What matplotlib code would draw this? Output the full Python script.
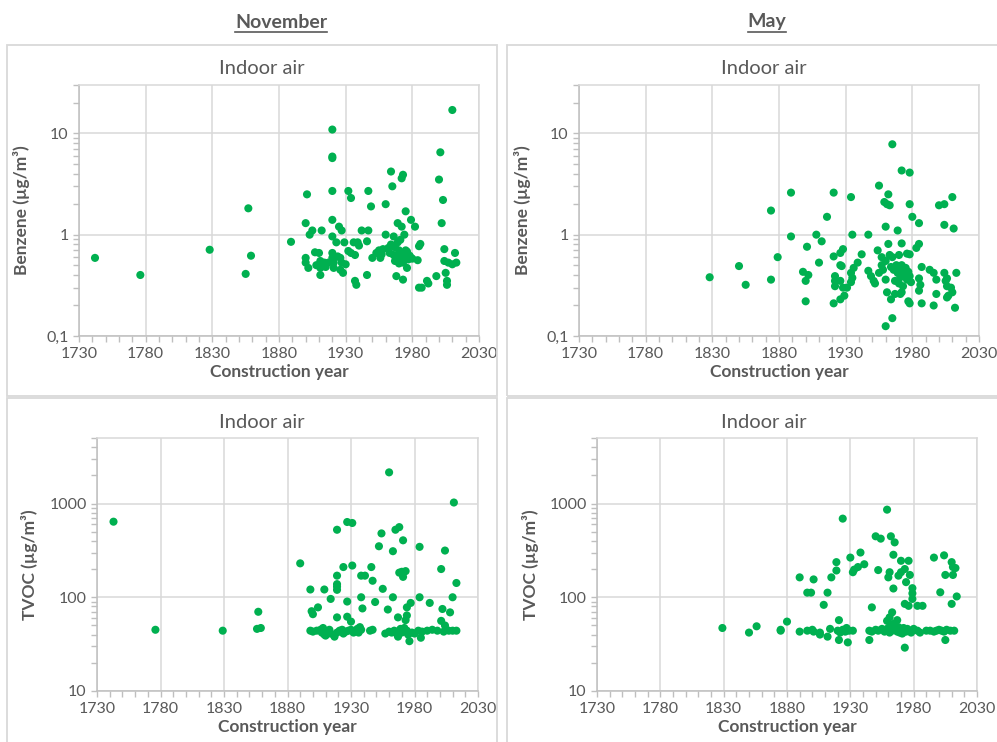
import matplotlib
matplotlib.use('Agg')
import matplotlib.pyplot as plt
from matplotlib.patches import Rectangle
from matplotlib.lines import Line2D
from matplotlib.ticker import LogLocator, FixedLocator, NullFormatter

# --- data ---
nov_benz_year = [1742, 1776, 1828, 1857, 1859, 1855, 1889,
                 2010, 1920, 1920, 1920, 2001, 1964, 1973, 1972, 2000, 1965, 2003,
                 1901, 1920, 1932, 1934, 1947, 1949, 1960, 1975, 1979, 2002, 1900,
                 1905, 1903, 1912, 1920, 1925, 1927, 1942, 1947, 1969, 1972, 1982,
                 1960, 1966, 1974, 1920, 1923, 1929, 1936, 1939, 1940, 1946, 1969,
                 1971, 1985, 1986, 2004, 2012, 1907, 1910, 1900, 1900, 1902, 1911,
                 1911, 1911, 1914, 1917, 1920, 1920, 1921, 1921, 1924, 1926, 1927,
                 1926, 1928, 1932, 1934, 1937, 1937, 1938, 1946, 1950, 1956, 1953,
                 1955, 1958, 1962, 1963, 1966, 1968, 1971, 1973, 1975, 1977, 1979,
                 1984, 1976, 1968, 1973, 1985, 1987, 1991, 1992, 1998, 2005, 2006,
                 2006, 2004, 2007, 2010, 2013, 1964, 1967, 1970, 1972, 1974, 1976,
                 1978, 1980, 1957, 1967, 1970, 1908, 1915, 1930]
nov_benz_val = [0.59, 0.40, 0.71, 1.82, 0.62, 0.41, 0.85,
                17, 10.9, 5.9, 5.7, 6.5, 4.2, 3.9, 3.6, 3.5, 3.0, 2.2,
                2.5, 2.7, 2.7, 2.3, 2.7, 1.9, 2.0, 1.7, 1.4, 1.3, 1.3,
                1.1, 1.0, 1.1, 1.4, 1.2, 1.1, 1.1, 1.1, 1.3, 1.2, 1.2,
                1.0, 0.96, 1.0, 0.96, 0.84, 0.84, 0.84, 0.84, 0.78, 0.86, 0.84,
                0.89, 0.77, 0.81, 0.72, 0.66, 0.67, 0.66, 0.59, 0.53, 0.47, 0.55,
                0.47, 0.40, 0.53, 0.53, 0.66, 0.59, 0.53, 0.47, 0.61, 0.59, 0.53,
                0.45, 0.42, 0.69, 0.66, 0.63, 0.35, 0.32, 0.40, 0.59, 0.59, 0.66,
                0.70, 0.72, 0.74, 0.66, 0.63, 0.61, 0.57, 0.53, 0.70, 0.57, 0.59,
                0.56, 0.47, 0.39, 0.36, 0.30, 0.30, 0.35, 0.33, 0.39, 0.42, 0.35,
                0.32, 0.55, 0.53, 0.51, 0.53, 0.80, 0.75, 0.70, 0.65, 0.62, 0.68,
                0.62, 0.58, 0.64, 0.55, 0.52, 0.50, 0.48, 0.51]

may_benz_year = [1828, 1850, 1855, 1874, 1874, 1879, 1889, 1889,
                 1965, 1972, 1978, 1955, 1962, 1959, 1961, 1963, 1978, 1980, 1985,
                 1960, 1969, 1921, 1934, 1916, 1908, 1912, 1901, 1935, 1947, 2000,
                 2004, 2010, 2004, 2011, 1921, 1926, 1928, 1942, 1954, 1957, 1960,
                 1963, 1965, 1970, 1972, 1976, 1978, 1962, 1983, 1985, 1910, 1926,
                 1927, 1939, 1936, 1934, 1935, 1934, 1947, 1949, 1951, 1952, 1922,
                 1922, 1926, 1922, 1928, 1931, 1926, 1929, 1921, 1898, 1902, 1900,
                 1900, 1960, 1964, 1966, 1968, 1969, 1970, 1971, 1972, 1973, 1974,
                 1975, 1976, 1977, 1978, 1979, 1967, 1970, 1973, 1958, 1955, 1957,
                 1961, 1964, 1967, 1971, 1972, 1965, 1960, 1977, 1978, 1987, 1986,
                 1985, 1985, 1987, 1993, 1996, 1998, 1998, 1996, 2004, 2006, 2005,
                 2006, 2009, 2010, 2007, 2006, 2013, 2012]
may_benz_val = [0.38, 0.49, 0.32, 0.36, 1.73, 0.60, 2.6, 0.96,
                7.8, 4.3, 4.1, 3.05, 2.5, 2.1, 2.0, 1.95, 2.0, 1.5, 1.3,
                1.2, 1.1, 2.6, 2.35, 1.5, 1.0, 0.86, 0.76, 1.0, 1.0, 1.95,
                2.0, 2.35, 1.25, 1.15, 0.61, 0.66, 0.72, 0.64, 0.70, 0.60, 0.55,
                0.63, 0.60, 0.63, 0.82, 0.65, 0.64, 0.81, 0.74, 0.81, 0.53, 0.50,
                0.49, 0.53, 0.47, 0.42, 0.375, 0.34, 0.44, 0.39, 0.35, 0.33, 0.39,
                0.35, 0.35, 0.31, 0.30, 0.30, 0.23, 0.25, 0.21, 0.43, 0.40, 0.35,
                0.22, 0.36, 0.48, 0.45, 0.50, 0.42, 0.46, 0.38, 0.50, 0.44, 0.40,
                0.47, 0.36, 0.43, 0.39, 0.34, 0.35, 0.33, 0.31, 0.45, 0.42, 0.50,
                0.27, 0.23, 0.26, 0.26, 0.27, 0.15, 0.125, 0.22, 0.21, 0.21, 0.32,
                0.28, 0.37, 0.48, 0.45, 0.42, 0.36, 0.26, 0.20, 0.42, 0.37, 0.35,
                0.31, 0.30, 0.27, 0.25, 0.24, 0.42, 0.19]

nov_tvoc_year = [1743, 1776, 1829, 1856, 1859, 1857, 1890, 1960, 2011, 1927,
                 1931, 1919, 1954, 1965, 1968, 1971, 1952, 1963, 1984, 2004,
                 1924, 1931, 1946, 1919, 1919, 1919, 1919, 1938, 1941, 1947,
                 1968, 1970, 1973, 1971, 2001, 2013, 1898, 1909, 1914, 1927,
                 1938, 1939, 1949, 1955, 1963, 1959, 1977, 1974, 1984, 1992,
                 2002, 2010, 2008, 1899, 1900, 1904, 1919, 1927, 1930, 1967,
                 1974, 1973, 2001, 2004,
                 1898, 1900, 1903, 1906, 1907, 1908, 1909, 1911, 1913, 1914,
                 1917, 1919, 1921, 1923, 1924, 1926, 1928, 1930, 1932, 1934,
                 1935, 1936, 1937, 1938, 1945, 1947, 1957, 1960, 1962, 1964,
                 1966, 1967, 1968, 1969, 1970, 1971, 1972, 1973, 1974, 1975,
                 1976, 1978, 1980, 1983, 1985, 1986, 1990, 1994, 1998, 2003,
                 2005, 2007, 2010, 2013, 1910]
nov_tvoc_val = [640, 45, 44, 46, 47, 70, 230, 2150, 1025, 635,
                620, 525, 480, 525, 560, 405, 350, 310, 345, 315,
                210, 218, 210, 170, 138, 130, 120, 170, 170, 150,
                183, 187, 190, 165, 200, 142, 121, 121, 96, 90,
                100, 76, 89, 123, 100, 74, 87, 78, 100, 87,
                75, 100, 69, 71, 66, 78, 61, 62, 55, 61,
                64, 57, 56, 50,
                44, 43, 44, 45, 42, 47, 40, 43, 45, 41,
                38, 42, 44, 45, 41, 43, 44, 45, 42, 44,
                46, 42, 48, 45, 44, 45, 41, 43, 42, 44,
                41, 38, 44, 46, 42, 45, 47, 43, 44, 40,
                34, 42, 41, 44, 37, 43, 44, 45, 44, 43,
                45, 44, 44, 44, 39]

may_tvoc_year = [1829, 1850, 1856, 1875, 1875, 1880, 1890, 1890, 1959, 1924,
                 1950, 1954, 1962, 1965, 1938, 1930, 1941, 1936, 1933, 1932,
                 1919, 1919, 1964, 1970, 1976, 1973, 1970, 1968, 1977, 1974,
                 1979, 1979, 1979, 1952, 1961, 1960, 1964, 1996, 2004, 2010,
                 2011, 2013, 2011, 2005, 2001, 2014, 2010, 1915, 1901, 1896,
                 1899, 1912, 1909, 1947, 1973, 1976, 1983, 1987, 1921, 1963,
                 1961, 1959, 1967, 1945, 1921, 1928, 1973, 2005, 1912, 1906,
                 1896, 1900, 1901, 1906, 1914, 1920, 1922, 1924, 1926, 1927,
                 1929, 1932, 1945, 1947, 1950, 1952, 1955, 1957, 1958, 1960,
                 1961, 1962, 1963, 1964, 1966, 1967, 1968, 1969, 1970, 1971,
                 1972, 1973, 1974, 1975, 1977, 1978, 1980, 1983, 1985, 1990,
                 1993, 1996, 1998, 2000, 2002, 2004, 2006, 2009, 2012]
may_tvoc_val = [47, 42, 49, 44, 45, 55, 163, 43, 860, 690,
                447, 422, 447, 385, 300, 265, 225, 210, 197, 185,
                237, 193, 284, 245, 245, 200, 185, 170, 173, 145,
                125, 110, 96, 195, 185, 163, 124, 265, 280, 237,
                210, 205, 173, 173, 113, 102, 85, 163, 155, 112,
                112, 112, 83, 78, 85, 81, 81, 81, 57, 69,
                61, 56, 57, 35, 35, 33, 29, 35, 38, 40,
                44, 45, 43, 42, 46, 44, 42, 45, 43, 47,
                44, 44, 44, 43, 45, 44, 46, 43, 45, 47,
                42, 49, 44, 52, 46, 43, 48, 42, 45, 41,
                47, 44, 43, 46, 44, 42, 46, 44, 42, 44,
                44, 43, 44, 45, 44, 43, 45, 44, 44]

x_major = list(range(1730, 2031, 50))
x_minor = list(range(1730, 2031, 10))

W, H = 997, 742
GREEN = '#00B050'
TXT = '#595959'
GRID = '#d9d9d9'
FONT = 'Lato'


def px_rect(x0, y0, x1, y1):
    # pixel box (y from the top) -> figure fraction [l, b, w, h]
    return [x0 / W, (H - y1) / H, (x1 - x0) / W, (y1 - y0) / H]


def draw_panel(fig, box, ax_box, years, vals, ylim, yticks, ylabels, ylabel, ylabel_x, title_y):
    fig.patches.append(Rectangle((box[0] / W, (H - box[3]) / H), (box[2] - box[0]) / W,
                                 (box[3] - box[1]) / H, transform=fig.transFigure,
                                 fill=False, edgecolor=GRID, linewidth=1.3))
    ax = fig.add_axes(px_rect(*ax_box))
    ax.scatter(years, vals, s=34, color=GREEN, edgecolors='none', zorder=3, clip_on=False)
    ax.set_yscale('log')
    ax.set_xlim(1730, 2030)
    ax.set_ylim(*ylim)
    ax.xaxis.set_major_locator(FixedLocator(x_major))
    ax.xaxis.set_minor_locator(FixedLocator(x_minor))
    ax.yaxis.set_major_locator(FixedLocator(yticks))
    ax.yaxis.set_major_formatter(plt.FixedFormatter(ylabels))
    ax.yaxis.set_minor_locator(LogLocator(base=10, subs=range(2, 10)))
    ax.yaxis.set_minor_formatter(NullFormatter())
    ax.grid(True, which='major', color=GRID, linewidth=1.1, zorder=0)
    ax.set_axisbelow(True)
    for side in ['top', 'right']:
        ax.spines[side].set_color(GRID)
        ax.spines[side].set_linewidth(1.1)
    for side in ['left', 'bottom']:
        ax.spines[side].set_color('#bfbfbf')
        ax.spines[side].set_linewidth(1.1)
    ax.tick_params(which='both', direction='out', color='#bfbfbf', width=1, labelcolor=TXT,
                   labelsize=11.5, top=False, right=False, length=4)
    ax.tick_params(axis='x', which='major', pad=4)
    for lab in ax.get_xticklabels() + ax.get_yticklabels():
        lab.set_family(FONT)
    ax.set_xlabel('Construction year', fontsize=12.5, fontweight='bold', color=TXT,
                  family=FONT, labelpad=2)
    fig.text(ylabel_x / W, 1 - ((ax_box[1] + ax_box[3]) / 2) / H, ylabel, rotation=90,
             fontsize=12.5, fontweight='bold', color=TXT, family=FONT,
             ha='center', va='center')
    fig.text(((box[0] + box[2]) / 2 + 10) / W, 1 - title_y / H, 'Indoor air', fontsize=14.5,
             color=TXT, family=FONT, ha='center', va='center')
    return ax


def header(fig, x, y, label):
    t = fig.text(x / W, 1 - y / H, label, fontsize=14, fontweight='bold', color=TXT,
                 family=FONT, ha='center', va='center')
    fig.canvas.draw()
    bb = t.get_window_extent(fig.canvas.get_renderer())
    yy = (bb.y0 - 1) / H
    fig.lines.append(Line2D([bb.x0 / W, bb.x1 / W], [yy, yy], transform=fig.transFigure,
                            color=TXT, linewidth=1.2))


def generate_chart():
    fig = plt.figure(figsize=(W / 100, H / 100), dpi=100)

    benz_ticks = [0.1, 1, 10]
    benz_labels = ['0,1', '1', '10']
    tvoc_ticks = [10, 100, 1000]
    tvoc_labels = ['10', '100', '1000']

    draw_panel(fig, (7, 45, 497, 396), (79, 85, 479, 336), nov_benz_year, nov_benz_val,
               (0.1, 30), benz_ticks, benz_labels, 'Benzene (µg/m³)', 22, 69)
    draw_panel(fig, (507, 45, 1000, 396), (579, 85, 979, 336), may_benz_year, may_benz_val,
               (0.1, 30), benz_ticks, benz_labels, 'Benzene (µg/m³)', 522, 69)
    draw_panel(fig, (7, 398, 497, 745), (97, 438, 478, 691), nov_tvoc_year, nov_tvoc_val,
               (10, 5000), tvoc_ticks, tvoc_labels, 'TVOC (µg/m³)', 30, 422)
    draw_panel(fig, (507, 398, 1000, 745), (597, 438, 977, 691), may_tvoc_year, may_tvoc_val,
               (10, 5000), tvoc_ticks, tvoc_labels, 'TVOC (µg/m³)', 530, 422)

    header(fig, 281, 22, 'November')
    header(fig, 767, 22, 'May')

    fig.savefig('out.png', dpi=100)
    plt.close(fig)


if __name__ == "__main__":
    generate_chart()
